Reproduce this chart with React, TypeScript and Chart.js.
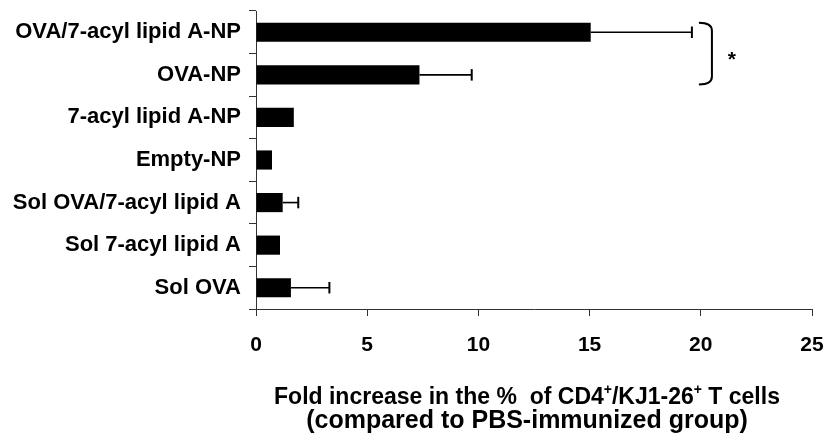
import React, { useEffect, useRef } from 'react';
import { Chart, registerables } from 'chart.js';

Chart.register(...registerables);

const categories = [
  'OVA/7-acyl lipid A-NP',
  'OVA-NP',
  '7-acyl lipid A-NP',
  'Empty-NP',
  'Sol OVA/7-acyl lipid A',
  'Sol 7-acyl lipid A',
  'Sol OVA',
];
const foldIncrease = [15.05, 7.35, 1.7, 0.72, 1.2, 1.08, 1.57];
const errorUpper = [4.55, 2.35, 0, 0, 0.7, 0, 1.73];
const xMin = 0;
const xMax = 25;
const xStep = 5;
const significancePair = [0, 1];
const significanceLabel = '*';
const bracketValue = 20.5;
const titleLine1 = [
  { t: 'Fold increase in the %  of CD4', sup: false },
  { t: '+', sup: true },
  { t: '/KJ1-26', sup: false },
  { t: '+', sup: true },
  { t: ' T cells', sup: false },
];
const titleLine2 = '(compared to PBS-immunized group)';

const FONT = "'Liberation Sans', Arial, sans-serif";

const annotPlugin = {
  id: 'annot',
  afterDatasetsDraw(chart: any) {
    const ctx = chart.ctx;
    const xs = chart.scales.x;
    const meta = chart.getDatasetMeta(0);
    ctx.save();
    ctx.strokeStyle = '#000';
    meta.data.forEach((bar: any, i: number) => {
      const e = errorUpper[i];
      if (!e) return;
      const { y, height } = bar.getProps(['y', 'height'], true);
      const x0 = xs.getPixelForValue(foldIncrease[i]);
      const x1 = xs.getPixelForValue(foldIncrease[i] + e);
      const cap = height * 0.3;
      ctx.lineWidth = 1.6;
      ctx.beginPath();
      ctx.moveTo(x0, y);
      ctx.lineTo(x1, y);
      ctx.stroke();
      ctx.lineWidth = 2;
      ctx.beginPath();
      ctx.moveTo(x1, y - cap);
      ctx.lineTo(x1, y + cap);
      ctx.stroke();
    });
    const b0 = meta.data[significancePair[0]].getProps(['y', 'height'], true);
    const b1 = meta.data[significancePair[1]].getProps(['y', 'height'], true);
    const top = b0.y - b0.height / 2;
    const bottom = b1.y + b1.height / 2;
    const xv = xs.getPixelForValue(bracketValue);
    ctx.lineWidth = 2;
    ctx.beginPath();
    ctx.moveTo(xv - 13, top);
    ctx.quadraticCurveTo(xv, top, xv, top + 8);
    ctx.lineTo(xv, bottom - 8);
    ctx.quadraticCurveTo(xv, bottom, xv - 13, bottom);
    ctx.stroke();
    ctx.fillStyle = '#000';
    ctx.font = `bold 21px ${FONT}`;
    ctx.textAlign = 'center';
    ctx.textBaseline = 'alphabetic';
    ctx.fillText(significanceLabel, xv + 20, (top + bottom) / 2 + 12);
    ctx.restore();
  },
  afterDraw(chart: any) {
    const ctx = chart.ctx;
    const area = chart.chartArea;
    const cx = (area.left + area.right) / 2 - 7;
    ctx.save();
    ctx.fillStyle = '#000';
    ctx.textBaseline = 'alphabetic';
    ctx.textAlign = 'left';
    const mainFont = `bold 23px ${FONT}`;
    const supFont = `bold 14px ${FONT}`;
    let total = 0;
    const widths = titleLine1.map((s) => {
      ctx.font = s.sup ? supFont : mainFont;
      const w = ctx.measureText(s.t).width;
      total += w;
      return w;
    });
    const y1 = area.bottom + 95;
    let x = cx - total / 2;
    titleLine1.forEach((s, i) => {
      ctx.font = s.sup ? supFont : mainFont;
      ctx.fillText(s.t, x, s.sup ? y1 - 10 : y1);
      x += widths[i];
    });
    ctx.font = `bold 25px ${FONT}`;
    ctx.textAlign = 'center';
    ctx.fillText(titleLine2, cx, y1 + 24);
    ctx.restore();
  },
};

export default function App() {
  const ref = useRef<HTMLCanvasElement>(null);
  useEffect(() => {
    if (!ref.current) return;
    const chart = new Chart(ref.current, {
      type: 'bar',
      data: {
        labels: categories,
        datasets: [
          {
            data: foldIncrease,
            backgroundColor: '#000',
            borderWidth: 0,
            barPercentage: 0.45,
            categoryPercentage: 1,
          },
        ],
      },
      options: {
        indexAxis: 'y',
        animation: false,
        responsive: false,
        layout: { padding: { top: 11, right: 14, bottom: 0, left: 0 } },
        plugins: { legend: { display: false }, tooltip: { enabled: false }, title: { display: false } },
        scales: {
          x: {
            type: 'linear',
            min: xMin,
            max: xMax,
            ticks: {
              stepSize: xStep,
              color: '#000',
              padding: 17,
              font: { family: FONT, size: 21, weight: 'bold' },
            },
            grid: { drawOnChartArea: false, drawTicks: true, tickLength: 7, color: '#333', lineWidth: 1 },
            border: { display: true, color: '#333', width: 1 },
            afterFit(scale: any) {
              scale.height = 138;
              scale.paddingLeft = 0;
              scale.paddingRight = 0;
            },
          },
          y: {
            type: 'category',
            offset: true,
            ticks: {
              color: '#000',
              padding: 8,
              font: { family: FONT, size: 22, weight: 'bold' },
            },
            grid: { offset: true, drawOnChartArea: false, drawTicks: true, tickLength: 7, color: '#333', lineWidth: 1 },
            border: { display: true, color: '#333', width: 1 },
            afterFit(scale: any) {
              scale.width = 256;
              scale.paddingTop = 0;
              scale.paddingBottom = 0;
            },
          },
        },
      },
      plugins: [annotPlugin],
    } as any);
    return () => chart.destroy();
  }, []);
  return (
    <div style={{ position: 'absolute', left: 0, top: 0, width: 826, height: 447 }}>
      <canvas ref={ref} width={826} height={447} style={{ display: 'block' }} />
    </div>
  );
}
